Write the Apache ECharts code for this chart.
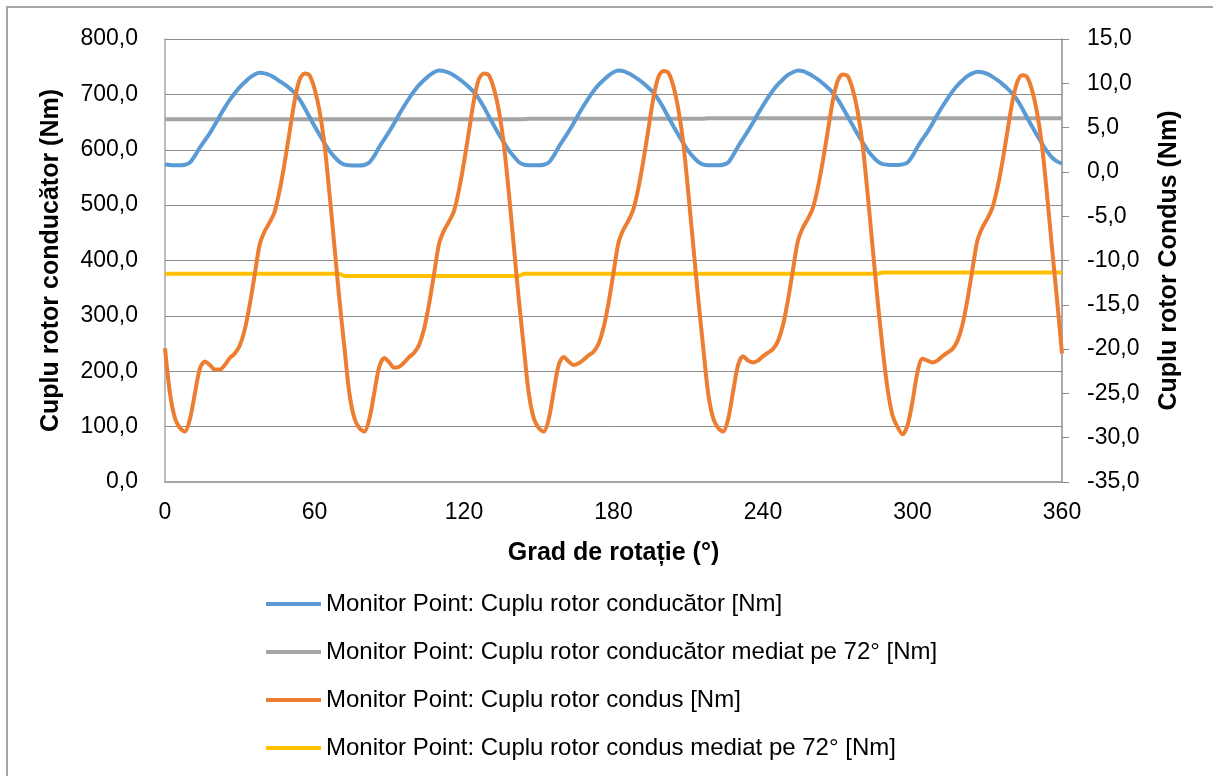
<!DOCTYPE html>
<html>
<head>
<meta charset="utf-8">
<script src="https://cdn.jsdelivr.net/npm/echarts@6/dist/echarts.min.js"></script>
<style>
  html, body { margin: 0; padding: 0; background: #fff; }
  #graph { width: 1213px; height: 776px; }
</style>
</head>
<body>
<div id="graph"></div>
<script>
// unghiuri (grade), pas de 2°
var angles = [
  0,2,4,6,8,10,12,14,16,18,20,22,24,26,28,30,32,34,36,38,40,42,44,46,48,50,52,54,56,58,60,62,64,66,68,70,
  72,74,76,78,80,82,84,86,88,90,92,94,96,98,100,102,104,106,108,110,112,114,116,118,120,122,124,126,128,130,132,134,136,138,140,142,
  144,146,148,150,152,154,156,158,160,162,164,166,168,170,172,174,176,178,180,182,184,186,188,190,192,194,196,198,200,202,204,206,208,210,212,214,
  216,218,220,222,224,226,228,230,232,234,236,238,240,242,244,246,248,250,252,254,256,258,260,262,264,266,268,270,272,274,276,278,280,282,284,286,
  288,290,292,294,296,298,300,302,304,306,308,310,312,314,316,318,320,322,324,326,328,330,332,334,336,338,340,342,344,346,348,350,352,354,356,358,
  360
];

// cuplu rotor conducator [Nm] (axa stanga)
var cupluConducator = [
  573.5,572.5,572,572,573,577,589,604,617,630,645,661,676,690,702,713,722,730,736,739,738,735,730,724,718,711,703,691,676,659,643,627,612,598,587,578,
  573,572,571.5,571.5,572.5,577,589,605,619,633,648,664,679,693,706,717,726,734,740,743,742,739,734,728,721,713,704,692,677,660,644,628,613,599,588,578,
  573,572,572,572,573,577,589,605,619,633,648,664,679,693,706,717,726,734,740,743,742,738,733,727,720,712,703,691,676,659,643,627,612,598,587,578,
  573,572,572,572,573,577,590,606,620,634,649,665,680,694,707,718,727,735,740,743,742,738,733,727,720,712,703,691,676,660,644,628,613,599,588,579,
  574,573,572.5,572.5,573.5,577,589,605,619,632,647,663,678,692,705,716,725,733,738,741,740,737,732,726,719,711,702,690,675,658,642,626,611,597,586,579,
  575
];

// cuplu rotor condus [Nm] (axa dreapta)
var cupluCondus = [
  -19.9,-25.0,-27.8,-28.9,-29.3,-27.9,-25.0,-22.2,-21.4,-21.8,-22.3,-22.3,-21.8,-21.0,-20.5,-19.6,-17.8,-15.0,-11.6,-8.2,-6.7,-5.7,-4.5,-2.1,1.0,4.5,8.0,10.4,11.1,10.9,9.4,6.9,3.1,-2.4,-8.4,-14.4,
  -19.8,-25.0,-27.8,-28.9,-29.3,-27.9,-24.9,-22.0,-21.0,-21.5,-22.1,-22.0,-21.5,-20.9,-20.4,-19.5,-17.7,-14.9,-11.5,-8.1,-6.6,-5.6,-4.4,-2.0,1.1,4.6,8.1,10.5,11.1,10.9,9.4,6.9,3.1,-2.4,-8.4,-14.4,
  -19.8,-25.0,-27.8,-28.9,-29.3,-27.9,-24.8,-21.8,-20.9,-21.4,-21.8,-21.6,-21.2,-20.7,-20.3,-19.4,-17.6,-14.8,-11.4,-8.0,-6.5,-5.5,-4.2,-1.8,1.3,4.8,8.3,10.7,11.4,11.2,9.7,7.1,3.3,-2.3,-8.3,-14.3,
  -19.8,-25.0,-27.8,-28.9,-29.3,-27.9,-24.8,-21.8,-20.8,-21.3,-21.5,-21.3,-20.8,-20.4,-20.0,-19.1,-17.3,-14.5,-11.1,-7.8,-6.3,-5.3,-4.1,-1.8,1.2,4.6,8.0,10.3,11.0,10.8,9.3,6.8,3.0,-2.5,-8.5,-14.5,
  -19.9,-24.5,-27.5,-28.8,-29.6,-28.6,-25.9,-22.6,-21.1,-21.3,-21.5,-21.3,-20.8,-20.4,-20.0,-19.1,-17.3,-14.5,-11.1,-7.8,-6.3,-5.3,-4.1,-1.9,1.0,4.4,7.8,10.1,10.9,10.7,9.2,6.7,2.9,-2.6,-8.6,-14.4,
  -20.5
];

// medii pe 72° (linii aproape orizontale)
var medConducatorAngles = [0, 144, 146, 216, 218, 360];
var medConducator = [655, 655, 656, 656, 657, 657];
var medCondusAngles = [0, 70, 72, 142, 144, 286, 288, 360];
var medCondus = [-11.5, -11.5, -11.75, -11.75, -11.5, -11.5, -11.35, -11.35];

var xTicks = [0, 60, 120, 180, 240, 300, 360];

var seriesNames = [
  "Monitor Point: Cuplu rotor conducător [Nm]",
  "Monitor Point: Cuplu rotor conducător mediat pe 72° [Nm]",
  "Monitor Point: Cuplu rotor condus [Nm]",
  "Monitor Point: Cuplu rotor condus mediat pe 72° [Nm]"
];

function pairs(xs, ys) {
  var out = [];
  for (var i = 0; i < xs.length; i++) out.push([xs[i], ys[i]]);
  return out;
}

function comma(v) {
  return v.toFixed(1).replace('.', ',');
}

var myChart = echarts.init(document.getElementById('graph'));

var labelFont = "'Liberation Sans', Arial, sans-serif";

var option = {
  animation: false,
  backgroundColor: '#ffffff',
  graphic: [
    {
      // rama exterioara (doar sus si stanga se vad)
      type: 'rect',
      shape: { x: 7, y: 7, width: 1300, height: 900 },
      style: { fill: 'none', stroke: '#a6a6a6', lineWidth: 2 },
      silent: true
    }
  ],
  grid: {
    left: 165,
    right: 151,
    top: 39,
    bottom: 294,
    containLabel: false
  },
  legend: {
    orient: 'vertical',
    left: 261,
    top: 587,
    itemWidth: 55,
    itemHeight: 24,
    itemGap: 24,
    icon: 'path://M0,10 L55,10 L55,14 L0,14 Z',
    textStyle: {
      fontFamily: labelFont,
      fontSize: 24,
      lineHeight: 24,
      color: '#000'
    },
    data: seriesNames
  },
  xAxis: {
    type: 'value',
    min: 0,
    max: 360,
    interval: 60,
    name: 'Grad de rotație (°)',
    nameLocation: 'middle',
    nameGap: 59,
    nameTextStyle: {
      fontFamily: labelFont,
      fontWeight: 'bold',
      fontSize: 25,
      color: '#000'
    },
    axisLine: { show: true, onZero: false, lineStyle: { color: '#a6a6a6', width: 2 } },
    axisTick: { show: false },
    splitLine: { show: false },
    axisLabel: {
      fontFamily: labelFont,
      fontSize: 23,
      color: '#000',
      margin: 19,
      customValues: xTicks
    }
  },
  yAxis: [
    {
      type: 'value',
      position: 'left',
      min: 0,
      max: 800,
      interval: 100,
      name: 'Cuplu rotor conducător (Nm)',
      nameLocation: 'middle',
      nameRotate: 90,
      nameGap: 101,
      nameTextStyle: {
        fontFamily: labelFont,
        fontWeight: 'bold',
        fontSize: 25,
        color: '#000'
      },
      axisLine: { show: true, lineStyle: { color: '#a6a6a6', width: 1.5 } },
      axisTick: { show: false },
      splitLine: { show: true, lineStyle: { color: '#8c8c8c', width: 1 } },
      axisLabel: {
        fontFamily: labelFont,
        fontSize: 23,
        color: '#000',
        margin: 27,
        formatter: comma
      }
    },
    {
      type: 'value',
      position: 'right',
      min: -35,
      max: 15,
      interval: 5,
      name: 'Cuplu rotor Condus (Nm)',
      nameLocation: 'middle',
      nameRotate: 90,
      nameGap: 95,
      nameTextStyle: {
        fontFamily: labelFont,
        fontWeight: 'bold',
        fontSize: 25,
        color: '#000'
      },
      axisLine: { show: true, lineStyle: { color: '#8c8c8c', width: 1.5 } },
      axisTick: { show: true, inside: false, length: 7, lineStyle: { color: '#8c8c8c' } },
      splitLine: { show: false },
      axisLabel: {
        fontFamily: labelFont,
        fontSize: 23,
        color: '#000',
        margin: 25,
        formatter: comma
      }
    }
  ],
  series: [
    {
      name: seriesNames[0],
      type: 'line',
      yAxisIndex: 0,
      data: pairs(angles, cupluConducator),
      showSymbol: false,
      symbol: 'none',
      smooth: 0.3,
      z: 3,
      lineStyle: { color: '#5b9bd5', width: 4 },
      itemStyle: { color: '#5b9bd5' }
    },
    {
      name: seriesNames[1],
      type: 'line',
      yAxisIndex: 0,
      data: pairs(medConducatorAngles, medConducator),
      showSymbol: false,
      symbol: 'none',
      z: 2,
      lineStyle: { color: '#a5a5a5', width: 4 },
      itemStyle: { color: '#a5a5a5' }
    },
    {
      name: seriesNames[2],
      type: 'line',
      yAxisIndex: 1,
      data: pairs(angles, cupluCondus),
      showSymbol: false,
      symbol: 'none',
      smooth: 0.3,
      z: 5,
      lineStyle: { color: '#ed7d31', width: 4 },
      itemStyle: { color: '#ed7d31' }
    },
    {
      name: seriesNames[3],
      type: 'line',
      yAxisIndex: 1,
      data: pairs(medCondusAngles, medCondus),
      showSymbol: false,
      symbol: 'none',
      z: 4,
      lineStyle: { color: '#ffc000', width: 4 },
      itemStyle: { color: '#ffc000' }
    }
  ]
};

myChart.setOption(option);
window.addEventListener('resize', function () {
  myChart.resize();
});
</script>
</body>
</html>
